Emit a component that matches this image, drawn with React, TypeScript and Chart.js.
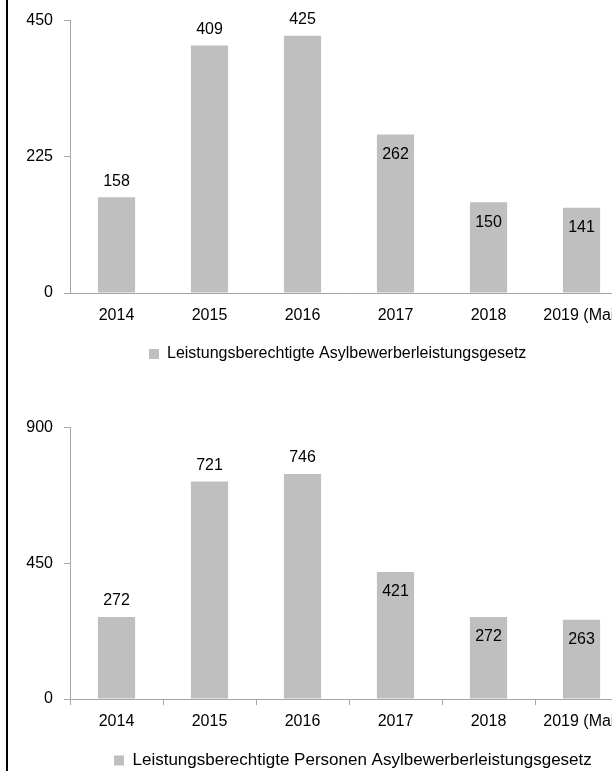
import React, { useEffect, useRef } from 'react';
import { Chart, registerables } from 'chart.js';

Chart.register(...registerables);

// ---------- data ----------
const categories = ['2014', '2015', '2016', '2017', '2018', '2019 (Mai)'];
const leistungsberechtigte = [158, 409, 425, 262, 150, 141];
const personen = [272, 721, 746, 421, 272, 263];
const topAxisMax = 450;
const topAxisStep = 225;
const bottomAxisMax = 900;
const bottomAxisStep = 450;
const topLegendLabel = 'Leistungsberechtigte Asylbewerberleistungsgesetz';
const bottomLegendLabel = 'Leistungsberechtigte Personen Asylbewerberleistungsgesetz';

// ---------- style ----------
const FONT = '"Liberation Sans", Arial, Helvetica, sans-serif';
const BAR_COLOR = '#bfbfbf';
const AXIS_COLOR = '#a6a6a6';
const TEXT_COLOR = '#000000';

interface BarChartProps {
  values: number[];
  label: string;
  max: number;
  step: number;
  showXTicks: boolean;
  legendFontSize: number;
  legendX: number;
  insideFrom: number;
  top: number;
  width: number;
  height: number;
}

function BarChart(props: BarChartProps) {
  const ref = useRef<HTMLCanvasElement | null>(null);

  useEffect(() => {
    const canvas = ref.current;
    if (!canvas) return;

    const valueLabels = {
      id: 'valueLabels',
      afterDatasetsDraw(chart: any) {
        const ctx = chart.ctx;
        const meta = chart.getDatasetMeta(0);
        const data = chart.data.datasets[0].data as number[];
        ctx.save();
        ctx.font = `16px ${FONT}`;
        ctx.fillStyle = TEXT_COLOR;
        ctx.textAlign = 'center';
        ctx.textBaseline = 'middle';
        meta.data.forEach((el: any, i: number) => {
          const inside = i >= props.insideFrom;
          ctx.fillText(String(data[i]), el.x, inside ? el.y + 20 : el.y - 16);
        });
        ctx.restore();
      },
    };

    const legendShift = {
      id: 'legendShift',
      afterLayout(chart: any) {
        const lg = chart.legend;
        if (!lg) return;
        const pad = lg.options.labels.padding;
        const dx = props.legendX - (lg.left + pad);
        lg.left += dx;
        lg.right += dx;
      },
    };

    const chart = new Chart(canvas, {
      type: 'bar',
      data: {
        labels: categories,
        datasets: [
          {
            label: props.label,
            data: props.values,
            backgroundColor: BAR_COLOR,
            borderWidth: 0,
            barPercentage: 0.4,
            categoryPercentage: 1,
          },
        ],
      },
      options: {
        animation: false,
        responsive: false,
        devicePixelRatio: 1,
        layout: { padding: { top: 20, right: 12, left: 0, bottom: 0 } },
        plugins: {
          tooltip: { enabled: false },
          legend: {
            display: true,
            position: 'bottom',
            align: 'start',
            fullSize: false,
            labels: {
              boxWidth: 10,
              boxHeight: 10,
              padding: 10,
              color: TEXT_COLOR,
              font: { family: FONT, size: props.legendFontSize },
            },
          },
        },
        scales: {
          x: {
            offset: true,
            border: { display: true, color: AXIS_COLOR, width: 1 },
            grid: {
              display: true,
              drawOnChartArea: false,
              drawTicks: true,
              tickLength: 6,
              offset: true,
              tickColor: props.showXTicks ? AXIS_COLOR : 'rgba(0,0,0,0)',
            },
            ticks: {
              color: TEXT_COLOR,
              padding: 7,
              maxRotation: 0,
              autoSkip: false,
              font: { family: FONT, size: 16 },
            },
            afterFit(scale: any) {
              scale.height = 43;
            },
          },
          y: {
            min: 0,
            max: props.max,
            border: { display: true, color: AXIS_COLOR, width: 1 },
            grid: {
              display: true,
              drawOnChartArea: false,
              drawTicks: true,
              tickLength: 6,
              tickColor: AXIS_COLOR,
            },
            ticks: {
              stepSize: props.step,
              color: TEXT_COLOR,
              padding: 11,
              font: { family: FONT, size: 16 },
            },
            afterFit(scale: any) {
              scale.width = 70;
            },
          },
        },
      },
      plugins: [valueLabels, legendShift],
    } as any);

    return () => chart.destroy();
  }, []);

  return (
    <canvas
      ref={ref}
      width={props.width}
      height={props.height}
      style={{ position: 'absolute', left: 0, top: props.top, width: props.width, height: props.height }}
    />
  );
}

export default function App() {
  return (
    <div
      style={{
        position: 'fixed',
        left: 0,
        top: 0,
        width: 612,
        height: 771,
        overflow: 'hidden',
        background: '#ffffff',
      }}
    >
      <div style={{ position: 'absolute', left: 6, top: 0, width: 2, height: 771, background: '#000' }} />
      <BarChart
        values={leistungsberechtigte}
        label={topLegendLabel}
        max={topAxisMax}
        step={topAxisStep}
        showXTicks={false}
        legendFontSize={16}
        legendX={149}
        insideFrom={3}
        top={0}
        width={640}
        height={372}
      />
      <BarChart
        values={personen}
        label={bottomLegendLabel}
        max={bottomAxisMax}
        step={bottomAxisStep}
        showXTicks={true}
        legendFontSize={17}
        legendX={114}
        insideFrom={3}
        top={407}
        width={640}
        height={372}
      />
    </div>
  );
}
